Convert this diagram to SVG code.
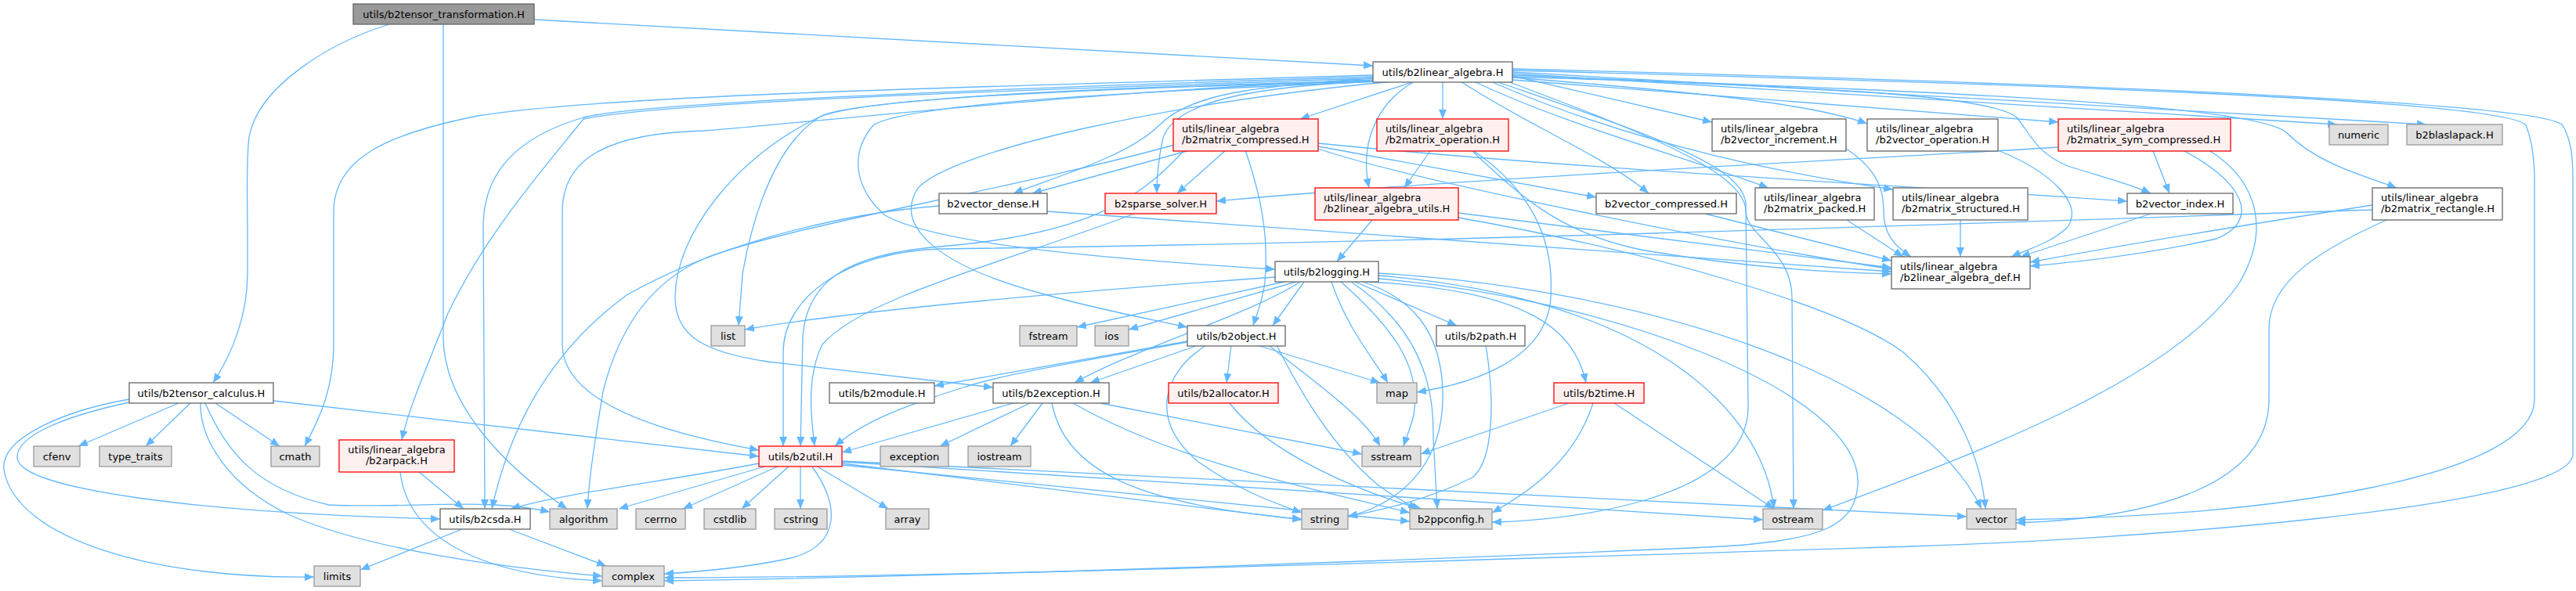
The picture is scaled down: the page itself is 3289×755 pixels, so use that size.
<svg xmlns="http://www.w3.org/2000/svg" width="3289" height="755" viewBox="0 0 3289 755">
<style>
rect{stroke-width:1.3}
.n rect{fill:#ffffff;stroke:#666666}
.s rect{fill:#e0e0e0;stroke:#999999}
.r rect{fill:#fff0f0;stroke:#ff0000}
.m rect{fill:#999999;stroke:#666666}
text{font-family:"DejaVu Sans","Liberation Sans",sans-serif;font-size:13px;fill:#000000}
.c{text-anchor:middle}
#edges path{fill:none;stroke:#63b8ff;stroke-width:1.3;marker-end:url(#a)}
</style>
<defs>
<marker id="a" viewBox="0 0 12 10" refX="12" refY="5" markerWidth="12" markerHeight="10" markerUnits="userSpaceOnUse" orient="auto">
<path d="M0,0 L12,5 L0,10 z" fill="#63b8ff" stroke="none"/>
</marker>
</defs>
<rect width="3289" height="755" fill="#ffffff"/>
<g id="edges">
<path d="M497,31 C420,55 330,110 318,175 C314,210 316,250 316,300 L316,350 C316,400 298,450 272,489"/>
<path d="M566,31 L566,430 C566,520 650,600 724,650"/>
<path d="M682,25 L1753,84"/>
<path d="M228,515 L100,570"/>
<path d="M243,515 L186,570"/>
<path d="M275,515 L357,570"/>
<path d="M165,510 C80,525 0,560 5,600 C20,690 200,740 401,737"/>
<path d="M165,514 C90,530 20,555 22,585 C25,625 250,655 562,663"/>
<path d="M262,515 C290,580 330,625 420,645 C520,650 620,635 702,654"/>
<path d="M256,515 C255,560 290,620 370,658 C470,702 640,725 769,736"/>
<path d="M349,512 L969,583"/>
<path d="M1753,96 C1300,110 780,120 610,148 C500,170 426,200 426,270 L426,440 C426,500 405,540 389,570"/>
<path d="M1753,98 C1300,112 820,130 745,150 C660,175 617,220 617,290 L619,650"/>
<path d="M1753,100 C1300,115 850,130 745,152 C690,220 620,300 572,400 C545,470 522,520 513,562"/>
<path d="M1753,102 C1400,115 1000,160 900,167 C780,170 718,200 718,270 L718,440 C718,500 800,545 969,575"/>
<path d="M1753,104 C1300,115 1100,130 1051,147 C990,180 960,280 948,350 L943,416"/>
<path d="M1760,104 C1500,115 1160,130 1115,160 C1085,195 1090,240 1130,275 C1200,315 1450,333 1628,344"/>
<path d="M1753,103 C1400,112 1100,125 1045,150 C940,200 862,300 862,380 C862,430 900,450 980,462 L1268,495"/>
<path d="M1780,104 C1500,130 1220,190 1172,240 C1140,290 1200,340 1330,375 C1400,395 1470,408 1516,418"/>
<path d="M1806,104 L1660,152"/>
<path d="M1842,104 L1842,152"/>
<path d="M1806,104 C1760,130 1735,180 1748,240"/>
<path d="M1753,100 C1600,110 1520,120 1480,160 C1440,200 1350,225 1294,247"/>
<path d="M1755,104 C1600,110 1495,130 1484,180 C1478,210 1477,230 1477,247"/>
<path d="M1865,104 C1950,160 2050,200 2105,247"/>
<path d="M1931,97 L2186,156"/>
<path d="M1931,99 C2200,120 2320,135 2384,158"/>
<path d="M1882,104 C2000,160 2150,200 2258,240"/>
<path d="M1903,104 C2100,190 2300,225 2417,242"/>
<path d="M1931,102 L2628,156"/>
<path d="M1931,98 C2300,110 2540,120 2575,150 C2595,175 2600,195 2640,212 C2680,225 2720,235 2746,247"/>
<path d="M1931,96 C2400,115 2880,130 2920,170 C2960,210 3020,225 3060,240"/>
<path d="M1931,94 L2984,159"/>
<path d="M1931,92 L3098,159"/>
<path d="M1931,90 C2700,110 3200,130 3225,160 C3233,180 3236,200 3236,230 L3236,510 C3236,610 2900,660 2574,664"/>
<path d="M1931,88 C2800,110 3250,135 3272,160 C3283,180 3285,200 3285,230 L3285,580 C3285,650 2700,690 2440,698 C2000,712 1200,738 848,738"/>
<path d="M1910,104 C2100,170 2225,210 2229,260 L2232,520 C2232,640 2000,665 1905,667"/>
<path d="M1925,104 C2100,170 2229,220 2229,270 C2229,300 2288,320 2288,380 L2290,650"/>
<path d="M1519,192 L1318,247"/>
<path d="M1565,192 L1503,247"/>
<path d="M1512,192 C1450,260 1380,300 1200,315 C1080,325 1030,360 1025,430 L1022,570"/>
<path d="M1683,187 L2038,252"/>
<path d="M1683,183 C2000,215 2400,235 2716,257"/>
<path d="M1683,190 C1800,230 2200,310 2415,344"/>
<path d="M1590,192 C1610,250 1620,300 1615,360 C1612,385 1605,400 1600,416"/>
<path d="M1500,185 C1300,240 1000,290 900,330 C830,360 790,420 770,500 C760,560 752,610 750,650"/>
<path d="M1826,193 L1793,240"/>
<path d="M1880,193 C1950,260 2000,300 2100,320 C2250,345 2350,348 2415,350"/>
<path d="M1882,193 C1950,240 1985,300 1980,380 C1975,460 1880,490 1809,501"/>
<path d="M1752,281 L1707,334"/>
<path d="M1862,272 L2415,342"/>
<path d="M1862,278 C2100,320 2350,390 2430,450 C2500,510 2530,590 2535,650"/>
<path d="M1199,263 C1050,275 900,320 800,377 C700,450 650,550 628,650"/>
<path d="M1337,270 C1800,300 2200,330 2415,347"/>
<path d="M1448,273 C1300,330 1100,380 1050,440 C1030,480 1035,530 1040,570"/>
<path d="M2177,273 L2415,333"/>
<path d="M2358,281 L2430,328"/>
<path d="M2503,281 L2503,328"/>
<path d="M2357,190 C2395,215 2405,240 2405,270 C2405,300 2420,315 2440,328"/>
<path d="M2551,192 C2620,220 2660,260 2640,290 C2620,310 2590,318 2568,328"/>
<path d="M2628,188 C2450,200 1900,225 1553,257"/>
<path d="M2749,193 L2770,247"/>
<path d="M2789,193 C2860,230 2890,280 2830,305 C2740,325 2650,335 2592,340"/>
<path d="M2822,193 C2880,230 2900,290 2860,360 C2780,480 2550,570 2327,652"/>
<path d="M2746,273 L2580,328"/>
<path d="M3029,262 C2850,290 2700,315 2592,335"/>
<path d="M3029,268 C2400,290 1800,310 1200,318 C1080,322 1000,380 1000,450 L1000,570"/>
<path d="M3047,281 C2960,320 2897,360 2897,420 L2897,510 C2897,620 2750,662 2574,668"/>
<path d="M1628,354 C1400,370 1100,395 951,421"/>
<path d="M1640,360 L1375,418"/>
<path d="M1655,360 L1441,421"/>
<path d="M1665,360 L1625,416"/>
<path d="M1660,360 C1600,400 1450,445 1372,489"/>
<path d="M1700,360 C1720,420 1755,460 1772,489"/>
<path d="M1712,360 C1780,420 1815,470 1805,530 C1800,550 1795,560 1792,570"/>
<path d="M1740,360 C1800,380 1840,420 1842,500 C1845,600 1780,645 1721,660"/>
<path d="M1725,360 C1830,430 1830,520 1830,560 L1835,650"/>
<path d="M1760,352 C2100,380 2250,520 2265,650"/>
<path d="M1760,349 C2100,370 2450,480 2530,650"/>
<path d="M1760,356 C2050,380 2380,500 2372,620 C2368,670 2330,690 2200,698 C1900,712 1300,735 848,742"/>
<path d="M1730,360 L1860,416"/>
<path d="M1745,360 C1950,370 2010,420 2025,489"/>
<path d="M1516,436 L1193,493"/>
<path d="M1530,441 L1392,489"/>
<path d="M1572,441 L1566,489"/>
<path d="M1516,437 C1400,458 1280,478 1230,495 C1150,520 1100,540 1066,570"/>
<path d="M1605,441 L1762,489"/>
<path d="M1620,441 C1680,490 1740,530 1762,570"/>
<path d="M1540,441 C1480,480 1470,540 1530,590 C1580,625 1620,640 1662,655"/>
<path d="M1630,441 C1660,500 1700,570 1760,620 C1780,635 1800,645 1810,650"/>
<path d="M1294,515 L1075,578"/>
<path d="M1315,515 L1200,570"/>
<path d="M1331,515 L1290,570"/>
<path d="M1405,515 L1739,580"/>
<path d="M1343,515 C1360,600 1450,645 1662,663"/>
<path d="M1370,515 C1500,590 1680,625 1800,655"/>
<path d="M1570,515 C1620,580 1740,630 1815,650"/>
<path d="M969,592 C850,615 720,630 652,650"/>
<path d="M980,595 L790,650"/>
<path d="M995,595 L872,650"/>
<path d="M1008,595 L947,650"/>
<path d="M1022,595 L1022,650"/>
<path d="M1042,595 L1134,650"/>
<path d="M1036,595 C1070,640 1080,700 1000,715 C950,725 900,730 848,733"/>
<path d="M1075,592 L1662,664"/>
<path d="M1075,594 L1800,666"/>
<path d="M1075,590 L2251,664"/>
<path d="M1075,589 L2511,660"/>
<path d="M590,676 L460,728"/>
<path d="M650,676 L774,723"/>
<path d="M535,603 L592,650"/>
<path d="M511,603 C520,680 600,735 769,742"/>
<path d="M1897,441 C1910,520 1905,590 1880,610 C1820,640 1760,652 1721,660"/>
<path d="M2003,515 L1814,580"/>
<path d="M2034,515 C2010,590 1950,630 1905,655"/>
<path d="M2061,515 L2265,650"/>
</g>
<g id="n-T" class="m"><rect x="451" y="5" width="231" height="26"/><text class="c" x="566.5" y="22.5">utils/b2tensor_transformation.H</text></g>
<g id="n-LA" class="n"><rect x="1753" y="79" width="178" height="26"/><text class="c" x="1842" y="96.5">utils/b2linear_algebra.H</text></g>
<g id="n-TC" class="n"><rect x="165" y="489" width="184" height="26"/><text class="c" x="257" y="506.5">utils/b2tensor_calculus.H</text></g>
<g id="n-cfenv" class="s"><rect x="43" y="570" width="59" height="26"/><text class="c" x="72.5" y="587.5">cfenv</text></g>
<g id="n-type_traits" class="s"><rect x="127" y="570" width="92" height="26"/><text class="c" x="173" y="587.5">type_traits</text></g>
<g id="n-cmath" class="s"><rect x="346" y="570" width="62" height="26"/><text class="c" x="377" y="587.5">cmath</text></g>
<g id="n-AR" class="r"><rect x="433" y="562" width="147" height="41"/><text class="c" x="506.5" y="579">utils/linear_algebra</text><text class="c" x="506.5" y="593">/b2arpack.H</text></g>
<g id="n-CS" class="n"><rect x="562" y="650" width="115" height="26"/><text class="c" x="619.5" y="667.5">utils/b2csda.H</text></g>
<g id="n-algorithm" class="s"><rect x="702" y="650" width="86" height="26"/><text class="c" x="745" y="667.5">algorithm</text></g>
<g id="n-limits" class="s"><rect x="401" y="723" width="59" height="26"/><text class="c" x="430.5" y="740.5">limits</text></g>
<g id="n-complex" class="s"><rect x="769" y="723" width="79" height="26"/><text class="c" x="808.5" y="740.5">complex</text></g>
<g id="n-cerrno" class="s"><rect x="812" y="650" width="63" height="26"/><text class="c" x="843.5" y="667.5">cerrno</text></g>
<g id="n-cstdlib" class="s"><rect x="899" y="650" width="66" height="26"/><text class="c" x="932" y="667.5">cstdlib</text></g>
<g id="n-cstring" class="s"><rect x="989" y="650" width="67" height="26"/><text class="c" x="1022.5" y="667.5">cstring</text></g>
<g id="n-array" class="s"><rect x="1131" y="650" width="55" height="26"/><text class="c" x="1158.5" y="667.5">array</text></g>
<g id="n-UT" class="r"><rect x="969" y="570" width="106" height="26"/><text class="c" x="1022" y="587.5">utils/b2util.H</text></g>
<g id="n-exception" class="s"><rect x="1124" y="570" width="87" height="26"/><text class="c" x="1167.5" y="587.5">exception</text></g>
<g id="n-iostream" class="s"><rect x="1236" y="570" width="80" height="26"/><text class="c" x="1276" y="587.5">iostream</text></g>
<g id="n-module" class="n"><rect x="1059" y="489" width="134" height="26"/><text class="c" x="1126" y="506.5">utils/b2module.H</text></g>
<g id="n-EX" class="n"><rect x="1268" y="489" width="148" height="26"/><text class="c" x="1342" y="506.5">utils/b2exception.H</text></g>
<g id="n-AL" class="r"><rect x="1492" y="489" width="140" height="26"/><text class="c" x="1562" y="506.5">utils/b2allocator.H</text></g>
<g id="n-list" class="s"><rect x="908" y="416" width="43" height="26"/><text class="c" x="929.5" y="433.5">list</text></g>
<g id="n-fstream" class="s"><rect x="1302" y="416" width="73" height="26"/><text class="c" x="1338.5" y="433.5">fstream</text></g>
<g id="n-ios" class="s"><rect x="1398" y="416" width="43" height="26"/><text class="c" x="1419.5" y="433.5">ios</text></g>
<g id="n-OB" class="n"><rect x="1516" y="416" width="125" height="26"/><text class="c" x="1578.5" y="433.5">utils/b2object.H</text></g>
<g id="n-PA" class="n"><rect x="1834" y="416" width="113" height="26"/><text class="c" x="1890.5" y="433.5">utils/b2path.H</text></g>
<g id="n-map" class="s"><rect x="1758" y="489" width="51" height="26"/><text class="c" x="1783.5" y="506.5">map</text></g>
<g id="n-TI" class="r"><rect x="1984" y="489" width="115" height="26"/><text class="c" x="2041.5" y="506.5">utils/b2time.H</text></g>
<g id="n-sstream" class="s"><rect x="1739" y="570" width="75" height="26"/><text class="c" x="1776.5" y="587.5">sstream</text></g>
<g id="n-string" class="s"><rect x="1662" y="650" width="59" height="26"/><text class="c" x="1691.5" y="667.5">string</text></g>
<g id="n-PPC" class="s"><rect x="1800" y="650" width="105" height="26"/><text class="c" x="1852.5" y="667.5">b2ppconfig.h</text></g>
<g id="n-ostream" class="s"><rect x="2251" y="650" width="76" height="26"/><text class="c" x="2289" y="667.5">ostream</text></g>
<g id="n-vector" class="s"><rect x="2511" y="650" width="63" height="26"/><text class="c" x="2542.5" y="667.5">vector</text></g>
<g id="n-LG" class="n"><rect x="1628" y="334" width="132" height="26"/><text class="c" x="1694" y="351.5">utils/b2logging.H</text></g>
<g id="n-VD" class="n"><rect x="1199" y="247" width="138" height="26"/><text class="c" x="1268" y="264.5">b2vector_dense.H</text></g>
<g id="n-SS" class="r"><rect x="1411" y="247" width="142" height="26"/><text class="c" x="1482" y="264.5">b2sparse_solver.H</text></g>
<g id="n-MC" class="r"><rect x="1498" y="152" width="185" height="41"/><text x="1509" y="169">utils/linear_algebra</text><text x="1509" y="183">/b2matrix_compressed.H</text></g>
<g id="n-MO" class="r"><rect x="1758" y="152" width="168" height="41"/><text x="1769" y="169">utils/linear_algebra</text><text x="1769" y="183">/b2matrix_operation.H</text></g>
<g id="n-LU" class="r"><rect x="1679" y="240" width="183" height="41"/><text x="1690" y="257">utils/linear_algebra</text><text x="1690" y="271">/b2linear_algebra_utils.H</text></g>
<g id="n-VC" class="n"><rect x="2038" y="247" width="179" height="26"/><text class="c" x="2127.5" y="264.5">b2vector_compressed.H</text></g>
<g id="n-VI" class="n"><rect x="2186" y="152" width="171" height="41"/><text x="2197" y="169">utils/linear_algebra</text><text x="2197" y="183">/b2vector_increment.H</text></g>
<g id="n-VO" class="n"><rect x="2384" y="152" width="167" height="41"/><text x="2395" y="169">utils/linear_algebra</text><text x="2395" y="183">/b2vector_operation.H</text></g>
<g id="n-MP" class="n"><rect x="2241" y="240" width="152" height="41"/><text x="2252" y="257">utils/linear_algebra</text><text x="2252" y="271">/b2matrix_packed.H</text></g>
<g id="n-MS" class="n"><rect x="2417" y="240" width="172" height="41"/><text x="2428" y="257">utils/linear_algebra</text><text x="2428" y="271">/b2matrix_structured.H</text></g>
<g id="n-DEF" class="n"><rect x="2415" y="328" width="177" height="41"/><text x="2426" y="345">utils/linear_algebra</text><text x="2426" y="359">/b2linear_algebra_def.H</text></g>
<g id="n-SC" class="r"><rect x="2628" y="152" width="220" height="41"/><text x="2639" y="169">utils/linear_algebra</text><text x="2639" y="183">/b2matrix_sym_compressed.H</text></g>
<g id="n-numeric" class="s"><rect x="2974" y="159" width="75" height="26"/><text class="c" x="3011.5" y="176.5">numeric</text></g>
<g id="n-blaslapack" class="s"><rect x="3073" y="159" width="122" height="26"/><text class="c" x="3134" y="176.5">b2blaslapack.H</text></g>
<g id="n-VX" class="n"><rect x="2716" y="247" width="135" height="26"/><text class="c" x="2783.5" y="264.5">b2vector_index.H</text></g>
<g id="n-MR" class="n"><rect x="3029" y="240" width="166" height="41"/><text x="3040" y="257">utils/linear_algebra</text><text x="3040" y="271">/b2matrix_rectangle.H</text></g>
</svg>
